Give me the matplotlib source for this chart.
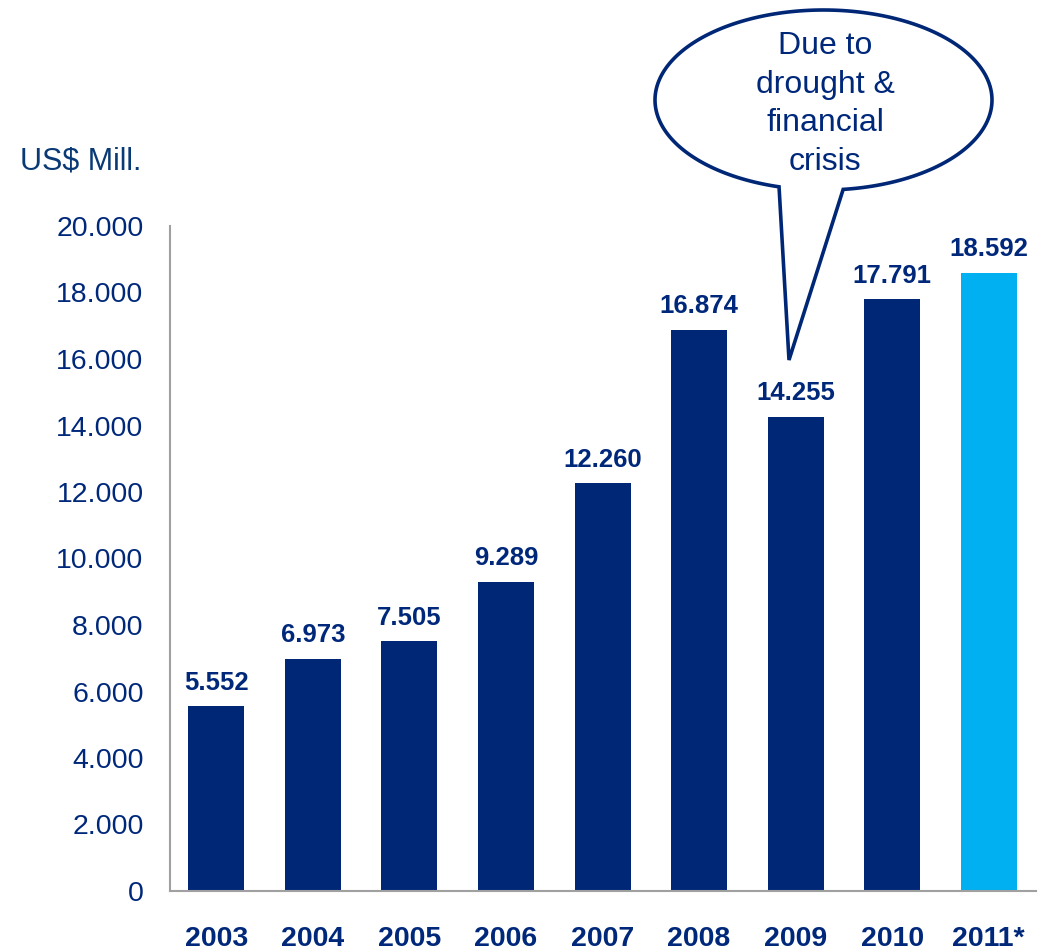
import numpy as np
import matplotlib
matplotlib.use("Agg")
from matplotlib import pyplot as plt
from matplotlib import patches as pts
from matplotlib.ticker import FuncFormatter

plt.rcParams['font.family'] = ['Liberation Sans', 'DejaVu Sans']

years = ['2003', '2004', '2005', '2006', '2007', '2008', '2009', '2010', '2011*']
values = [5552, 6973, 7505, 9289, 12260, 16874, 14255, 17791, 18592]
value_labels = ['5.552', '6.973', '7.505', '9.289', '12.260', '16.874', '14.255', '17.791', '18.592']
yticks = np.arange(0, 20001, 2000)

navy = '#002776'
light = '#00B0F0'
txt = '#00287A'
grey = '#A0A0A0'

W, H = 1040, 950
fig = plt.figure(figsize=(W/100, H/100), dpi=100)
ax = fig.add_axes([170/W, 1-891/H, 866/W, 665/H])

x = np.arange(len(years))
colors = [navy]*(len(years)-1) + [light]
ax.bar(x, values, width=0.58, color=colors, zorder=2)

for xi, v, s in zip(x, values, value_labels):
    ax.annotate(s, (xi, v), xytext=(0, 12), textcoords='offset points',
                ha='center', va='baseline', fontsize=18.5, fontweight='bold', color=txt)

ax.set_xlim(-0.48, 8.49)
ax.set_ylim(0, 20000)
ax.set_yticks(yticks)
ax.yaxis.set_major_formatter(FuncFormatter(lambda v, p: f'{int(v):,}'.replace(',', '.')))
ax.set_xticks(x)
ax.set_xticklabels(years, fontweight='bold')
ax.tick_params(axis='y', length=0, pad=19, labelsize=20.5, labelcolor=txt)
ax.tick_params(axis='x', length=0, pad=25, labelsize=20.5, labelcolor=txt)
for sp in ['top', 'right']:
    ax.spines[sp].set_visible(False)
for sp in ['left', 'bottom']:
    ax.spines[sp].set_color(grey)
    ax.spines[sp].set_linewidth(1.5)

fig.text(20/W, 1-162/H, 'US$ Mill.', ha='left', va='center', fontsize=22, color='#0A3A75')

# speech bubble over 2009
cx, cy, a, b = 823.5, 100, 168.5, 90
t = np.radians(np.linspace(-83.3, 254.7, 200))
px = cx + a*np.cos(t)
py = (H - cy) + b*np.sin(t)
tip = (789, H - 360)
poly = np.vstack([np.column_stack([px, py]), [tip]])
poly = poly / np.array([W, H])
bubble = pts.Polygon(poly, closed=True, facecolor='white', edgecolor=navy,
                     linewidth=2.6, transform=fig.transFigure, zorder=5)
fig.patches.append(bubble)
fig.text(825/W, 1-104/H, 'Due to\ndrought &\nfinancial\ncrisis', ha='center', va='center',
         fontsize=23, color=txt, linespacing=1.37, zorder=6)

fig.savefig('out.png', dpi=100)
